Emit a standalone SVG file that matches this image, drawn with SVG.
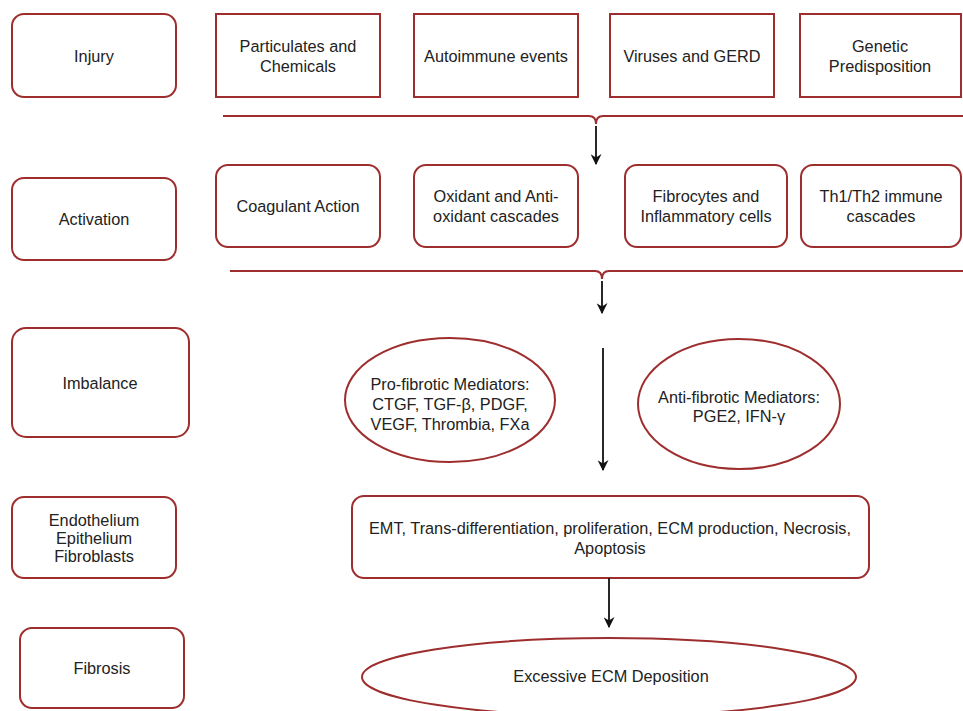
<svg xmlns="http://www.w3.org/2000/svg" width="963" height="711" viewBox="0 0 963 711">
<defs>
<style>
.n{fill:#fff;stroke:#9e2e2e;stroke-width:2}
.t{font-family:"Liberation Sans",Arial,sans-serif;font-size:16.3px;fill:#222;text-anchor:middle}
.br{fill:none;stroke:#9e2e2e;stroke-width:2}
.ar{stroke:#111;stroke-width:1.8;fill:none;marker-end:url(#ah)}
</style>
<marker id="ah" viewBox="0 0 10 10" refX="9" refY="5" markerWidth="11" markerHeight="11" markerUnits="userSpaceOnUse" orient="auto"><path d="M0,0 L10,5 L0,10 L3,5 z" fill="#111"/></marker>
</defs>
<rect width="963" height="711" fill="#fff"/>
<g id="injury"><rect class="n" x="12" y="14" width="164" height="83" rx="12"/><text class="t" x="94" y="62">Injury</text></g>
<g id="particulates"><rect class="n" x="216" y="14" width="164" height="83"/><text class="t" x="298" y="52">Particulates and</text><text class="t" x="298" y="72">Chemicals</text></g>
<g id="autoimmune"><rect class="n" x="414" y="14" width="164" height="83"/><text class="t" x="496" y="62">Autoimmune events</text></g>
<g id="viruses"><rect class="n" x="610" y="14" width="164" height="83"/><text class="t" x="692" y="62">Viruses and GERD</text></g>
<g id="genetic"><rect class="n" x="800" y="14" width="161" height="83"/><text class="t" x="880" y="52">Genetic</text><text class="t" x="880" y="72">Predisposition</text></g>

<g id="activation"><rect class="n" x="12" y="178" width="164" height="82" rx="12"/><text class="t" x="94" y="225">Activation</text></g>
<g id="coagulant"><rect class="n" x="216" y="165" width="164" height="82" rx="12"/><text class="t" x="298" y="212">Coagulant Action</text></g>
<g id="oxidant"><rect class="n" x="414" y="165" width="164" height="82" rx="12"/><text class="t" x="496" y="202">Oxidant and Anti-</text><text class="t" x="496" y="222">oxidant cascades</text></g>
<g id="fibrocytes"><rect class="n" x="625" y="165" width="162" height="82" rx="12"/><text class="t" x="706" y="202">Fibrocytes and</text><text class="t" x="706" y="222">Inflammatory cells</text></g>
<g id="th"><rect class="n" x="801" y="165" width="160" height="82" rx="12"/><text class="t" x="881" y="202">Th1/Th2 immune</text><text class="t" x="881" y="222">cascades</text></g>

<g id="imbalance"><rect class="n" x="12" y="328" width="177" height="109" rx="14"/><text class="t" x="100" y="389">Imbalance</text></g>
<g id="pro"><ellipse class="n" cx="450" cy="400" rx="105" ry="62"/><text class="t" x="450" y="390">Pro-fibrotic Mediators:</text><text class="t" x="450" y="410">CTGF, TGF-β, PDGF,</text><text class="t" x="450" y="430">VEGF, Thrombia, FXa</text></g>
<g id="anti"><ellipse class="n" cx="739" cy="404" rx="101" ry="65"/><text class="t" x="739" y="403">Anti-fibrotic Mediators:</text><text class="t" x="739" y="422">PGE2, IFN-γ</text></g>

<g id="cells"><rect class="n" x="12" y="497" width="164" height="81" rx="12"/><text class="t" x="94" y="526">Endothelium</text><text class="t" x="94" y="544">Epithelium</text><text class="t" x="94" y="562">Fibroblasts</text></g>
<g id="emt"><rect class="n" x="352" y="496" width="517" height="82" rx="12"/><text class="t" x="610" y="534">EMT, Trans-differentiation, proliferation, ECM production, Necrosis,</text><text class="t" x="610" y="554">Apoptosis</text></g>

<g id="fibrosis"><rect class="n" x="20" y="628" width="164" height="80" rx="12"/><text class="t" x="102" y="674">Fibrosis</text></g>
<g id="ecm"><ellipse class="n" cx="609" cy="677" rx="247" ry="39"/><text class="t" x="611" y="682">Excessive ECM Deposition</text></g>

<g id="connectors">
<path class="br" d="M223,116 H589 Q596,116 596,124 Q596,116 603,116 H963"/>
<path class="ar" d="M596,126 V164"/>
<path class="br" d="M230,271 H595 Q602,271 602,279 Q602,271 609,271 H963"/>
<path class="ar" d="M602,281 V313"/>
<path class="ar" d="M603,348 V470"/>
<path class="ar" d="M609,578 V627"/>
</g>
</svg>
